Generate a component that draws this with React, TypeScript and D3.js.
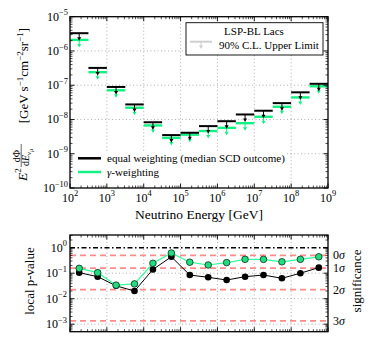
import React from 'react';
import * as d3 from 'd3';

const binEdges = [1e2, 3.162e2, 1e3, 3.162e3, 1e4, 3.162e4, 1e5, 3.162e5, 1e6, 3.162e6, 1e7, 3.162e7, 1e8, 3.162e8, 1e9];
const ulEqual = [3.3e-6, 3.2e-7, 8.9e-8, 2.75e-8, 8.3e-9, 3.5e-9, 4.1e-9, 6.4e-9, 8.9e-9, 1.4e-8, 1.8e-8, 3.0e-8, 6.2e-8, 1.1e-7];
const ulGamma = [2.1e-6, 2.4e-7, 7.1e-8, 2.2e-8, 6.7e-9, 2.9e-9, 3.6e-9, 4.6e-9, 5.7e-9, 7.8e-9, 1.2e-8, 2.35e-8, 4.4e-8, 9.3e-8];
const pEqual = [0.105, 0.073, 0.032, 0.02, 0.14, 0.44, 0.085, 0.069, 0.054, 0.073, 0.085, 0.063, 0.1, 0.165];
const pGamma = [0.155, 0.105, 0.034, 0.038, 0.245, 0.62, 0.27, 0.21, 0.26, 0.35, 0.35, 0.28, 0.35, 0.44];
const sigmaLabels = ['0', '1', '2', '3'];
const sigmaP = [0.5, 0.1587, 0.02275, 0.00135];
const xTickExps = [2, 3, 4, 5, 6, 7, 8, 9];
const yTopTickExps = [-10, -9, -8, -7, -6, -5];
const yBotTickExps = [-3, -2, -1, 0];

const BLACK = '#000';
const GREEN = '#11f283';
const FONT = '"Liberation Serif", "DejaVu Serif", serif';

const L = 70, R = 328;
const TT = 16.7, TB = 188;
const BT = 235, BB = 331.7;

function minorTicks(lo: number, hi: number) {
  const out: number[] = [];
  for (let e = Math.floor(Math.log10(lo)); e <= Math.ceil(Math.log10(hi)); e++) {
    for (let k = 2; k <= 9; k++) {
      const v = k * Math.pow(10, e);
      if (v > lo * 1.0001 && v < hi * 0.9999) out.push(v);
    }
  }
  return out;
}

function Pow({ x, y, exp, anchor, size = 12 }: any) {
  const e = exp < 0 ? '\u2212' + Math.abs(exp) : String(exp);
  return (
    <text x={x} y={y} textAnchor={anchor} fontFamily={FONT} fontSize={size}>
      10<tspan fontSize={size * 0.7} dy={-size * 0.45}>{e}</tspan>
    </text>
  );
}

function Frame({ x, y, top, bot, yTicks }: any) {
  const xd = x.domain(), yd = y.domain();
  const xMaj = xTickExps.map(e => Math.pow(10, e));
  const xMin = minorTicks(xd[0], xd[1]);
  const yMaj = yTicks.map((e: number) => Math.pow(10, e)).filter((v: number) => v >= yd[0] * 0.999 && v <= yd[1] * 1.001);
  const yMin = minorTicks(yd[0], yd[1]);
  const els: any[] = [];
  xMaj.forEach((v, i) => {
    const px = x(v);
    els.push(<line key={'xM' + i} x1={px} x2={px} y1={bot} y2={bot - 4.5} stroke="#000" strokeWidth={0.9} />);
    els.push(<line key={'xMt' + i} x1={px} x2={px} y1={top} y2={top + 4.5} stroke="#000" strokeWidth={0.9} />);
  });
  xMin.forEach((v, i) => {
    const px = x(v);
    els.push(<line key={'xm' + i} x1={px} x2={px} y1={bot} y2={bot - 2.5} stroke="#000" strokeWidth={0.7} />);
    els.push(<line key={'xmt' + i} x1={px} x2={px} y1={top} y2={top + 2.5} stroke="#000" strokeWidth={0.7} />);
  });
  yMaj.forEach((v: number, i: number) => {
    const py = y(v);
    els.push(<line key={'yM' + i} x1={L} x2={L + 4.5} y1={py} y2={py} stroke="#000" strokeWidth={0.9} />);
    els.push(<line key={'yMr' + i} x1={R} x2={R - 4.5} y1={py} y2={py} stroke="#000" strokeWidth={0.9} />);
  });
  yMin.forEach((v, i) => {
    const py = y(v);
    els.push(<line key={'ym' + i} x1={L} x2={L + 2.5} y1={py} y2={py} stroke="#000" strokeWidth={0.7} />);
    els.push(<line key={'ymr' + i} x1={R} x2={R - 2.5} y1={py} y2={py} stroke="#000" strokeWidth={0.7} />);
  });
  return <g>{els}<rect x={L} y={top} width={R - L} height={bot - top} fill="none" stroke="#000" strokeWidth={1.3} /></g>;
}

function Grid({ x, y, top, bot, yVals }: any) {
  return (
    <g stroke="#9a9a9a" strokeWidth={0.8} strokeDasharray="1,2.5">
      {xTickExps.slice(1, -1).map(e => <line key={'gx' + e} x1={x(Math.pow(10, e))} x2={x(Math.pow(10, e))} y1={top} y2={bot} />)}
      {yVals.map((v: number, i: number) => <line key={'gy' + i} x1={L} x2={R} y1={y(v)} y2={y(v)} />)}
    </g>
  );
}

export default function App() {
  const x = d3.scaleLog().domain([1e2, 1e9]).range([L, R]);
  const yT = d3.scaleLog().domain([1e-10, 1e-5]).range([TB, TT]);
  const yB = d3.scaleLog().domain([Math.pow(10, -3.294), Math.pow(10, 0.498)]).range([BB, BT]);

  const centers = ulEqual.map((_, i) => Math.sqrt(binEdges[i] * binEdges[i + 1]));

  const drawUL = (vals: number[], color: string, key: string, sw: number) =>
    vals.map((v, i) => {
      const xa = x(binEdges[i]), xb = x(binEdges[i + 1]);
      const cx = x(centers[i]);
      const py = yT(v);
      return (
        <g key={key + i}>
          <line x1={xa} x2={xb} y1={py} y2={py} stroke={color} strokeWidth={sw} />
          <line x1={cx} x2={cx} y1={py} y2={py + 6} stroke={color} strokeWidth={1} />
          <path d={`M${cx - 2},${py + 4} L${cx + 2},${py + 4} L${cx},${py + 7.5} Z`} fill={color} />
        </g>
      );
    });

  const lineGen = (vals: number[]) =>
    d3.line<number>().x((_, i) => x(centers[i])).y(d => yB(d))(vals) || '';

  return (
    <svg width={374} height={343} style={{ display: 'block', position: 'absolute', left: 0, top: 0 }}>
      <rect width={374} height={343} fill="#fff" />
      {/* Top plot */}
      <Grid x={x} y={yT} top={TT} bot={TB} yVals={[-9, -8, -7, -6].map(e => Math.pow(10, e))} />
      {drawUL(ulGamma, GREEN, 'g', 2.4)}
      {drawUL(ulEqual, BLACK, 'b', 2)}

      {/* top-right legend */}
      <rect x={186} y={22.7} width={137} height={32.3} fill="#fff" stroke="#000" strokeWidth={0.9} />
      <text x={254} y={34.5} textAnchor="middle" fontFamily={FONT} fontSize={11}>LSP-BL Lacs</text>
      <line x1={190} x2={212} y1={41.7} y2={41.7} stroke="#cfcfcf" strokeWidth={2} />
      <line x1={201} x2={201} y1={41.7} y2={47} stroke="#cfcfcf" strokeWidth={1} />
      <path d="M199,45.5 L203,45.5 L201,49 Z" fill="#cfcfcf" />
      <text x={219} y={49} fontFamily={FONT} fontSize={11}>90% C.L. Upper Limit</text>

      {/* bottom-left legend */}
      <rect x={76} y={151} width={210} height={35} fill="#fff" />
      <line x1={78} x2={101} y1={158.3} y2={158.3} stroke={BLACK} strokeWidth={2.5} />
      <text x={107} y={161.8} fontFamily={FONT} fontSize={11}>equal weighting (median SCD outcome)</text>
      <line x1={78} x2={101} y1={172} y2={172} stroke={GREEN} strokeWidth={2.5} />
      <text x={107} y={175.5} fontFamily={FONT} fontSize={11}>
        <tspan fontStyle="italic">γ</tspan>-weighting
      </text>

      <Frame x={x} y={yT} top={TT} bot={TB} yTicks={yTopTickExps} />
      {yTopTickExps.map(e => <Pow key={'yt' + e} x={68} y={yT(Math.pow(10, e)) + 4} exp={e} anchor="end" />)}
      {xTickExps.map(e => <Pow key={'xt' + e} x={x(Math.pow(10, e))} y={201.7} exp={e} anchor="middle" />)}
      <text x={199} y={219} textAnchor="middle" fontFamily={FONT} fontSize={13.5}>Neutrino Energy [GeV]</text>

      {/* top y label */}
      <g transform="translate(27,106) rotate(-90)" fontFamily={FONT}>
        <text x={-75} y={-0.5} fontSize={13.5}><tspan fontStyle="italic">E</tspan><tspan fontSize={9} dy={-5.5}>2</tspan></text>
        <text x={-50} y={-7.5} fontSize={10} textAnchor="middle">dΦ</text>
        <line x1={-61} x2={-38} y1={-5.8} y2={-5.8} stroke="#000" strokeWidth={0.6} />
        <text x={-60} y={2} fontSize={10}>d<tspan fontStyle="italic">E</tspan><tspan fontSize={7} dy={2} fontStyle="italic">ν</tspan><tspan fontSize={5.5} dy={1.5} fontStyle="italic">μ</tspan></text>
        <text x={78} y={0.5} fontSize={13} textAnchor="end">[GeV s<tspan fontSize={9} dy={-5}>−1</tspan><tspan dy={5}>cm</tspan><tspan fontSize={9} dy={-5}>−2</tspan><tspan dy={5}>sr</tspan><tspan fontSize={9} dy={-5}>−1</tspan><tspan dy={5}>]</tspan></text>
      </g>

      {/* Bottom plot */}
      <Grid x={x} y={yB} top={BT} bot={BB} yVals={[-3, -2, -1].map(e => Math.pow(10, e))} />
      {sigmaP.map((p, i) => (
        <line key={'sig' + i} x1={L} x2={R} y1={yB(p)} y2={yB(p)} stroke="#ff6f6f" strokeOpacity={0.8} strokeWidth={1.6} strokeDasharray="6,4" />
      ))}
      <line x1={L} x2={R} y1={yB(1)} y2={yB(1)} stroke="#000" strokeWidth={1.5} strokeDasharray="5,2.5,1.5,2.5" />
      <path d={lineGen(pEqual)} fill="none" stroke="#000" strokeWidth={1} />
      <path d={lineGen(pGamma)} fill="none" stroke="#33ff99" strokeWidth={1.2} />
      {pEqual.map((p, i) => <circle key={'pe' + i} cx={x(centers[i])} cy={yB(p)} r={3.3} fill="#000" />)}
      {pGamma.map((p, i) => <circle key={'pg' + i} cx={x(centers[i])} cy={yB(p)} r={3.3} fill="#22dd80" stroke="#0b2a1a" strokeWidth={0.8} />)}
      <Frame x={x} y={yB} top={BT} bot={BB} yTicks={yBotTickExps} />
      {yBotTickExps.map(e => <Pow key={'yb' + e} x={67} y={yB(Math.pow(10, e)) + 4} exp={e} anchor="end" />)}
      <text transform="translate(34,281) rotate(-90)" textAnchor="middle" fontFamily={FONT} fontSize={13}>local p-value</text>
      {sigmaP.map((p, i) => (
        <text key={'sl' + i} x={333} y={yB(p) + 4} fontFamily={FONT} fontSize={12}>{sigmaLabels[i]}<tspan fontStyle="italic">σ</tspan></text>
      ))}
      <text transform="translate(361,281) rotate(-90)" textAnchor="middle" fontFamily={FONT} fontSize={13}>significance</text>
    </svg>
  );
}
